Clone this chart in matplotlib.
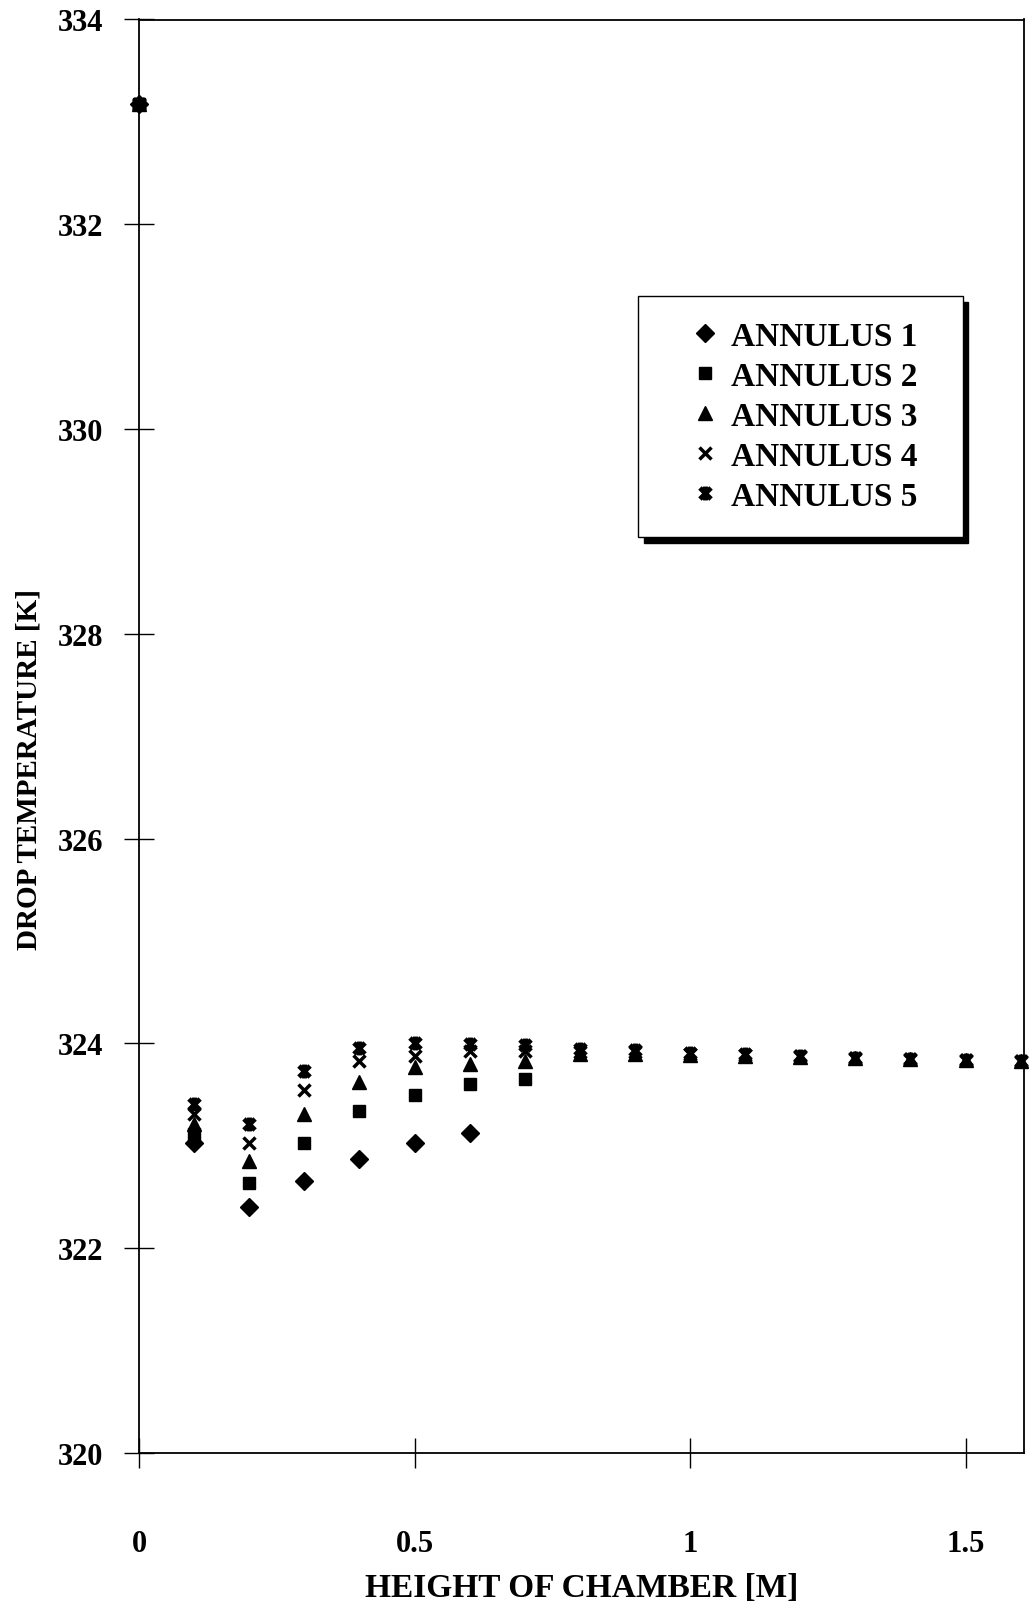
#Librerias
import matplotlib.pyplot as plt
import numpy as np
from matplotlib.path import Path

#Datos
altura = [0, 0.1, 0.2, 0.3, 0.4, 0.5, 0.6, 0.7, 0.8, 0.9, 1.0, 1.1, 1.2, 1.3, 1.4, 1.5, 1.6]
annulus_1 = [333.17, 323.03, 322.40, 322.66, 322.87, 323.03, 323.13]
annulus_2 = [333.17, 323.12, 322.64, 323.03, 323.34, 323.50, 323.60, 323.65]
annulus_3 = [333.17, 323.21, 322.85, 323.31, 323.62, 323.77, 323.80, 323.83, 323.90,
             323.90, 323.89, 323.88, 323.87, 323.86, 323.85, 323.84, 323.83]
annulus_4 = [333.17, 323.31, 323.03, 323.55, 323.83, 323.88, 323.93, 323.93, 323.92,
             323.92, 323.90, 323.89, 323.88, 323.86, 323.85, 323.84, 323.83]
annulus_5 = [333.17, 323.41, 323.21, 323.73, 323.96, 324.00, 323.99, 323.98, 323.95,
             323.94, 323.91, 323.90, 323.88, 323.86, 323.85, 323.84, 323.83]
etiquetas = ['ANNULUS 1', 'ANNULUS 2', 'ANNULUS 3', 'ANNULUS 4', 'ANNULUS 5']

#Marcador tipo asterisco (x con linea vertical)
asterisco = Path([(0, -1), (0, 1), (-0.8, -0.8), (0.8, 0.8), (-0.8, 0.8), (0.8, -0.8)],
                 [Path.MOVETO, Path.LINETO, Path.MOVETO, Path.LINETO, Path.MOVETO, Path.LINETO])

plt.rcParams['font.family'] = 'Liberation Serif'
plt.rcParams['font.weight'] = 'bold'

fig = plt.figure(figsize=(10.29, 16.06), dpi=100)
ax = fig.add_axes([139 / 1029, 1 - 1454 / 1606, 885 / 1029, 1433.5 / 1606])

series = [annulus_1, annulus_2, annulus_3, annulus_4, annulus_5]
estilos = [dict(marker='D', markersize=9),
           dict(marker='s', markersize=9),
           dict(marker='^', markersize=10),
           dict(marker='x', markersize=9, markeredgewidth=2.5),
           dict(marker=asterisco, markersize=10, markeredgewidth=3.5)]

for vals, lab, est in zip(series, etiquetas, estilos):
    ax.plot(altura[:len(vals)], vals, linestyle='none', color='black',
            label=lab, clip_on=False, **est)

#Ejes
ax.set_xlim(0, 1.606)
ax.set_ylim(320, 334)
ax.set_xticks([0, 0.5, 1, 1.5])
ax.set_xticklabels(['0', '0.5', '1', '1.5'])
ax.set_yticks(np.arange(320, 335, 2))
ax.tick_params(axis='both', direction='inout', length=22, width=1, labelsize=22)
ax.tick_params(axis='x', pad=44)
ax.tick_params(axis='y', pad=15)
for s in ax.spines.values():
    s.set_linewidth(1.3)

ax.set_xlabel('HEIGHT OF CHAMBER [M]', fontsize=24, fontweight='bold', labelpad=10)
fig.text(29 / 1029, 1 - 770 / 1606, 'DROP TEMPERATURE [K]', rotation=90,
         ha='center', va='center', fontsize=21, fontweight='bold')

#Leyenda
leg = ax.legend(loc='upper left', bbox_to_anchor=(0.564, 0.707, 0.367, 0.1),
                mode='expand', fontsize=24,
                frameon=True, fancybox=False, framealpha=1, edgecolor='black',
                borderpad=0.75, labelspacing=0.27, handlelength=2.5,
                handletextpad=-0.45, borderaxespad=0,
                shadow={'ox': 4, 'oy': -4, 'color': 'black', 'alpha': 1})
leg.get_frame().set_linewidth(1)

fig.savefig('out.png', dpi=100)
